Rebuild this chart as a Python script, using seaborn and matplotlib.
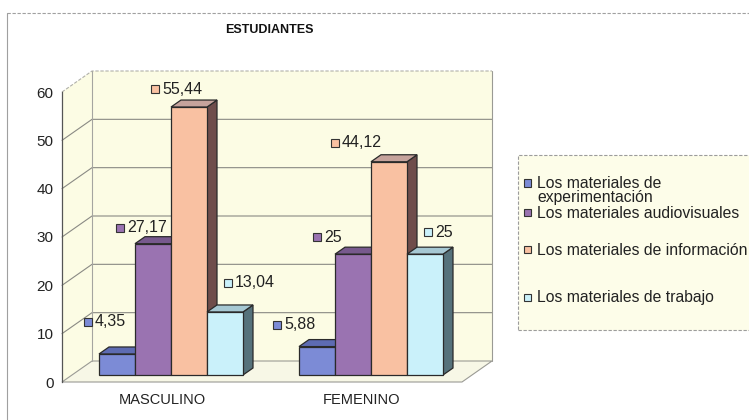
import matplotlib
matplotlib.use("Agg")
import matplotlib.pyplot as plt
from matplotlib.patches import Polygon, Rectangle
from matplotlib.lines import Line2D
from matplotlib.transforms import ScaledTranslation
import numpy as np
import pandas as pd
import seaborn as sns

# ---- data -------------------------------------------------------------
title = "ESTUDIANTES"
categories = ["MASCULINO", "FEMENINO"]
series_names = [
    "Los materiales de experimentación",
    "Los materiales audiovisuales",
    "Los materiales de información",
    "Los materiales de trabajo",
]
legend_labels = [
    "Los materiales de\nexperimentación",
    "Los materiales audiovisuales",
    "Los materiales de información",
    "Los materiales de trabajo",
]
experimentacion = [4.35, 5.88]
audiovisuales = [27.17, 25]
informacion = [55.44, 44.12]
trabajo = [13.04, 25]
y_ticks = [0, 10, 20, 30, 40, 50, 60]

# ---- style ------------------------------------------------------------
front_colors = ["#7c8bd6", "#9a73b1", "#f9c1a2", "#caf1fa"]
top_colors = ["#5d6bb2", "#77598d", "#c6a39c", "#a6c8d3"]
side_colors = ["#465291", "#5c4470", "#6f4d4b", "#56727b"]
wall_color = "#fcfce4"
grid_color = "#8a8a84"
edge_color = "#2a2a2a"
text_color = "#222222"

# depth of the pseudo-3D box, in pixels (x right, y up)
WALL_DEPTH = (30, 21)
BAR_SHIFT = (9, 7)
BAR_DEPTH = (10, 7)
# data-label placement relative to each bar's top, pixels (series, category)
label_nudge = [
    [(-29, 32), (-40, 22)],
    [(-33, 16), (-36, 17)],
    [(-34, 18), (-54, 19)],
    [(3, 29), (3, 22)],
]
legend_rows_y = [183, 213, 250, 297]
legend_line_step = 14

W, H, DPI = 749, 420, 100
sns.set_style("white")
plt.rcParams["font.family"] = ["Liberation Sans", "DejaVu Sans"]

fig = plt.figure(figsize=(W / DPI, H / DPI), dpi=DPI)
fig.patch.set_facecolor("white")


def fx(px):
    return px / W


def fy(py):
    return 1 - py / H


ax = fig.add_axes([fx(62), fy(382), (462 - 62) / W, (382 - 92) / H])
ax.set_facecolor("none")

values = [experimentacion, audiovisuales, informacion, trabajo]
df = pd.DataFrame(
    [
        {"grupo": cat, "serie": name, "valor": vals[j]}
        for name, vals in zip(series_names, values)
        for j, cat in enumerate(categories)
    ]
)

sns.barplot(
    data=df, x="grupo", y="valor", hue="serie",
    order=categories, hue_order=series_names,
    palette=front_colors, saturation=1, width=0.72,
    edgecolor=edge_color, linewidth=0.9, errorbar=None,
    legend=False, ax=ax,
)
bars = list(ax.patches)

ax.set_xlim(-0.5, 1.5)
ax.set_ylim(0, 60)
ax.set_xlabel("")
ax.set_ylabel("")

# pixel -> data conversions
p0 = ax.transData.transform((0, 0))
p1 = ax.transData.transform((1, 1))
sx, sy = p1[0] - p0[0], p1[1] - p0[1]
wdx, wdy = WALL_DEPTH[0] / sx, WALL_DEPTH[1] / sy
bdx, bdy = BAR_DEPTH[0] / sx, BAR_DEPTH[1] / sy


def shifted(dx_px, dy_px):
    return ax.transData + ScaledTranslation(dx_px / DPI, dy_px / DPI, fig.dpi_scale_trans)


# ---- walls and floor --------------------------------------------------
xl, xr = -0.5, 1.5
ax.add_patch(Rectangle((xl + wdx, wdy), xr - xl, 60, facecolor=wall_color,
                       edgecolor="none", zorder=0.4, clip_on=False))
ax.add_patch(Polygon([(xl, 0), (xl, 60), (xl + wdx, 60 + wdy), (xl + wdx, wdy)],
                     closed=True, facecolor=wall_color, edgecolor="none",
                     zorder=0.4, clip_on=False))
ax.add_patch(Polygon([(xl, 0), (xr, 0), (xr + wdx, wdy), (xl + wdx, wdy)],
                     closed=True, facecolor="#f7f7e6", edgecolor="#9a9a94",
                     linewidth=0.8, zorder=0.5, clip_on=False))
for t in y_ticks[1:]:
    ls = (0, (3, 1.5)) if t == y_ticks[-1] else "-"
    col = "#b0b0aa" if t == y_ticks[-1] else grid_color
    ax.plot([xl, xl + wdx, xr + wdx], [t, t + wdy, t + wdy], color=col,
            linewidth=0.8, linestyle=ls, zorder=0.8, clip_on=False)
ax.plot([xl + wdx, xl + wdx], [wdy, 60 + wdy], color="#a5a5a0", linewidth=0.8,
        zorder=0.8, clip_on=False)
ax.plot([xr + wdx, xr + wdx], [wdy, 60 + wdy], color="#9a9a94", linewidth=0.8,
        zorder=0.8, clip_on=False)

# ---- 3D bars ----------------------------------------------------------
bar_tr = shifted(*BAR_SHIFT)
order = sorted(range(len(bars)), key=lambda i: bars[i].get_x())
for rank, i in enumerate(order):
    p = bars[i]
    s, c = i // len(categories), i % len(categories)
    x0, w, h = p.get_x(), p.get_width(), p.get_height()
    x1 = x0 + w
    z = 3 + rank
    p.set_transform(bar_tr)
    p.set_zorder(z)
    p.set_clip_on(False)
    ax.add_patch(Polygon([(x1, 0), (x1 + bdx, bdy), (x1 + bdx, h + bdy), (x1, h)],
                         closed=True, facecolor=side_colors[s], edgecolor=edge_color,
                         linewidth=0.9, transform=bar_tr, zorder=z - 0.2, clip_on=False))
    ax.add_patch(Polygon([(x0, h), (x1, h), (x1 + bdx, h + bdy), (x0 + bdx, h + bdy)],
                         closed=True, facecolor=top_colors[s], edgecolor=edge_color,
                         linewidth=0.9, transform=bar_tr, zorder=z - 0.1, clip_on=False))

    # data label: colour key + value
    ndx, ndy = label_nudge[s][c]
    cx = x0 + w / 2
    ax.plot([cx], [h], marker="s", markersize=5.2, markerfacecolor=front_colors[s],
            markeredgecolor="#333333", markeredgewidth=0.8, linestyle="none",
            transform=shifted(BAR_SHIFT[0] + ndx, BAR_SHIFT[1] + ndy),
            zorder=30, clip_on=False)
    txt = f"{h:g}".replace(".", ",")
    ax.text(cx, h, txt, fontsize=11.5, color=text_color, ha="left", va="center",
            transform=shifted(BAR_SHIFT[0] + ndx + 7, BAR_SHIFT[1] + ndy),
            zorder=30, clip_on=False)

# ---- axes -------------------------------------------------------------
for side in ["top", "right", "bottom"]:
    ax.spines[side].set_visible(False)
ax.spines["left"].set_color("#555555")
ax.spines["left"].set_linewidth(0.9)
ax.spines["left"].set_zorder(1)
ax.set_yticks(y_ticks)
ax.set_yticklabels([str(t) for t in y_ticks])
ax.tick_params(axis="y", length=4, width=0.8, color="#555555", pad=2,
               labelsize=11, labelcolor=text_color)
ax.tick_params(axis="x", length=0, pad=8, labelsize=10.5, labelcolor=text_color)

# ---- title ------------------------------------------------------------
fig.text(fx(269), fy(30), title, ha="center", va="center", fontsize=9,
         fontweight="bold", color="#111111")

# ---- legend -----------------------------------------------------------
fig.patches.append(Rectangle((fx(518), fy(330)), fx(780) - fx(518), (330 - 155) / H,
                             transform=fig.transFigure, facecolor="#fdfde9",
                             edgecolor="#9c9c9c", linewidth=0.8,
                             linestyle=(0, (3, 1.5)), zorder=1))
for k, (lab, yrow) in enumerate(zip(legend_labels, legend_rows_y)):
    fig.patches.append(Rectangle((fx(523.5), fy(yrow + 3.5)), 7 / W, 7 / H,
                                 transform=fig.transFigure,
                                 facecolor=front_colors[k], edgecolor="#333333",
                                 linewidth=0.8, zorder=2))
    for n, line in enumerate(lab.split("\n")):
        fig.text(fx(537), fy(yrow + 5 + n * legend_line_step), line, ha="left",
                 va="baseline", fontsize=11.3, color=text_color, zorder=3)

# ---- outer frame ------------------------------------------------------
fig.add_artist(Line2D([fx(7), fx(7)], [fy(13), 0], color="#a0a0a0", linewidth=0.8))
fig.add_artist(Line2D([fx(7), 1], [fy(13), fy(13)], color="#a0a0a0", linewidth=0.8,
                      linestyle=(0, (3, 1.5))))

fig.savefig("out.png", dpi=DPI)
